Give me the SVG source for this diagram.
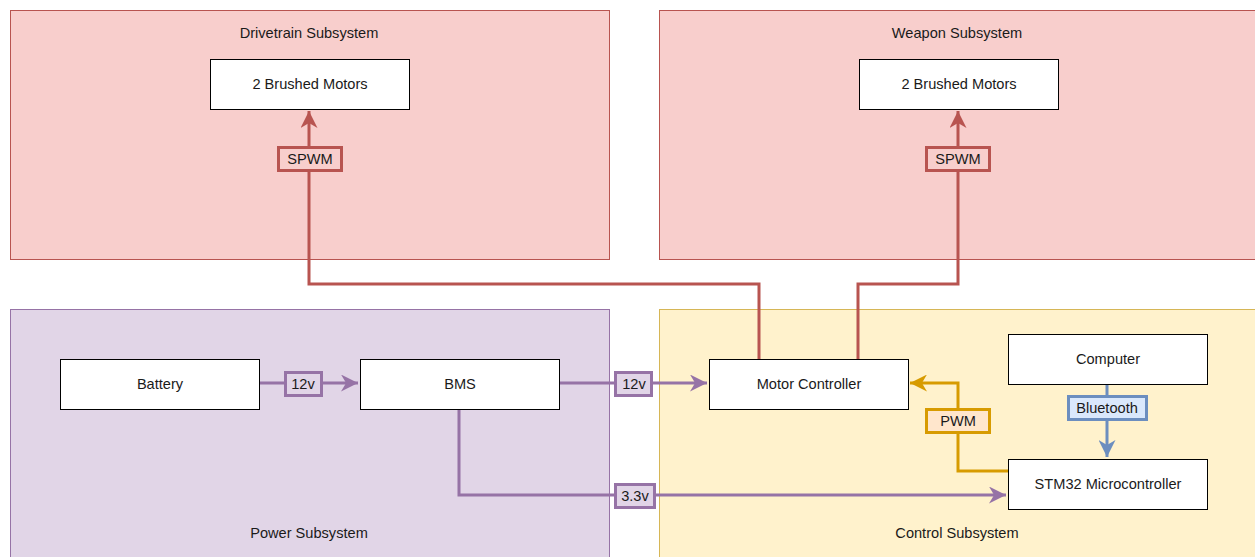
<svg xmlns="http://www.w3.org/2000/svg" width="1255" height="557" viewBox="0 0 1255 557">
<defs>
<style>
text{font-family:"Liberation Sans",Arial,sans-serif;font-size:14.6px;fill:#1a1a1a;text-anchor:middle;dominant-baseline:central}
.node{fill:#fff;stroke:#000;stroke-width:1}
.red{fill:none;stroke:#b85450;stroke-width:3}
.pur{fill:none;stroke:#9673a6;stroke-width:3}
.org{fill:none;stroke:#d79b00;stroke-width:3}
.blu{fill:none;stroke:#6c8ebf;stroke-width:3}
</style>
<marker id="aR" viewBox="0 0 10 10" refX="10" refY="5" markerWidth="17" markerHeight="17" markerUnits="userSpaceOnUse" orient="auto"><path d="M0,0 L10,5 L0,10 L3,5 Z" fill="#b85450"/></marker>
<marker id="aP" viewBox="0 0 10 10" refX="10" refY="5" markerWidth="17" markerHeight="17" markerUnits="userSpaceOnUse" orient="auto"><path d="M0,0 L10,5 L0,10 L3,5 Z" fill="#9673a6"/></marker>
<marker id="aO" viewBox="0 0 10 10" refX="10" refY="5" markerWidth="17" markerHeight="17" markerUnits="userSpaceOnUse" orient="auto"><path d="M0,0 L10,5 L0,10 L3,5 Z" fill="#d79b00"/></marker>
<marker id="aB" viewBox="0 0 10 10" refX="10" refY="5" markerWidth="17" markerHeight="17" markerUnits="userSpaceOnUse" orient="auto"><path d="M0,0 L10,5 L0,10 L3,5 Z" fill="#6c8ebf"/></marker>
</defs>
<g id="drivetrain">
<rect x="10.5" y="10.5" width="599" height="249" fill="#f8cecc" stroke="#b85450"/>
<text x="309" y="33">Drivetrain Subsystem</text>
</g>
<g id="weapon">
<rect x="659.5" y="10.5" width="600" height="249" fill="#f8cecc" stroke="#b85450"/>
<text x="957" y="33">Weapon Subsystem</text>
</g>
<g id="power">
<rect x="10.5" y="309.5" width="599" height="260" fill="#e1d5e7" stroke="#9673a6"/>
<text x="309" y="533">Power Subsystem</text>
</g>
<g id="control">
<rect x="659.5" y="309.5" width="600" height="260" fill="#fff2cc" stroke="#d6b656"/>
<text x="957" y="533">Control Subsystem</text>
</g>
<g id="connectors">
<path class="red" d="M759,359 V284 H309 V111" marker-end="url(#aR)"/>
<path class="red" d="M858,359 V284 H958 V111" marker-end="url(#aR)"/>
<path class="pur" d="M259,383 H358" marker-end="url(#aP)"/>
<path class="pur" d="M559,383 H707" marker-end="url(#aP)"/>
<path class="pur" d="M459,409 V495 H1006" marker-end="url(#aP)"/>
<path class="org" d="M1008,471 H958 V383 H910" marker-end="url(#aO)"/>
<path class="blu" d="M1107,384 V457" marker-end="url(#aB)"/>
<g id="lbl-spwm1"><rect x="278.5" y="147.5" width="63" height="23" fill="#f8cecc" stroke="#b85450" stroke-width="3"/><text x="310" y="159">SPWM</text></g>
<g id="lbl-spwm2"><rect x="926.5" y="147.5" width="63" height="23" fill="#f8cecc" stroke="#b85450" stroke-width="3"/><text x="958" y="159">SPWM</text></g>
<g id="lbl-12v-1"><rect x="285.5" y="372.5" width="36" height="23" fill="#e1d5e7" stroke="#9673a6" stroke-width="3"/><text x="303" y="384">12v</text></g>
<g id="lbl-12v-2"><rect x="615.5" y="372.5" width="36" height="23" fill="#e1d5e7" stroke="#9673a6" stroke-width="3"/><text x="634" y="384">12v</text></g>
<g id="lbl-33v"><rect x="615.5" y="484.5" width="39" height="23" fill="#e1d5e7" stroke="#9673a6" stroke-width="3"/><text x="635" y="496">3.3v</text></g>
<g id="lbl-pwm"><rect x="926.5" y="409.5" width="63" height="23" fill="#ffe6cc" stroke="#d79b00" stroke-width="3"/><text x="958" y="421">PWM</text></g>
<g id="lbl-bt"><rect x="1068.5" y="396.5" width="78" height="23" fill="#dae8fc" stroke="#6c8ebf" stroke-width="3"/><text x="1107" y="408">Bluetooth</text></g>
</g>
<g id="dt-motors"><rect class="node" x="210.5" y="59.5" width="199" height="50"/><text x="310" y="84">2 Brushed Motors</text></g>
<g id="wp-motors"><rect class="node" x="859.5" y="59.5" width="199" height="50"/><text x="959" y="84">2 Brushed Motors</text></g>
<g id="battery"><rect class="node" x="60.5" y="359.5" width="199" height="50"/><text x="160" y="384">Battery</text></g>
<g id="bms"><rect class="node" x="360.5" y="359.5" width="199" height="50"/><text x="460" y="384">BMS</text></g>
<g id="motor-controller"><rect class="node" x="709.5" y="359.5" width="199" height="50"/><text x="809" y="384">Motor Controller</text></g>
<g id="computer"><rect class="node" x="1008.5" y="334.5" width="199" height="50"/><text x="1108" y="359">Computer</text></g>
<g id="stm32"><rect class="node" x="1008.5" y="459.5" width="199" height="50"/><text x="1108" y="484">STM32 Microcontroller</text></g>
</svg>
